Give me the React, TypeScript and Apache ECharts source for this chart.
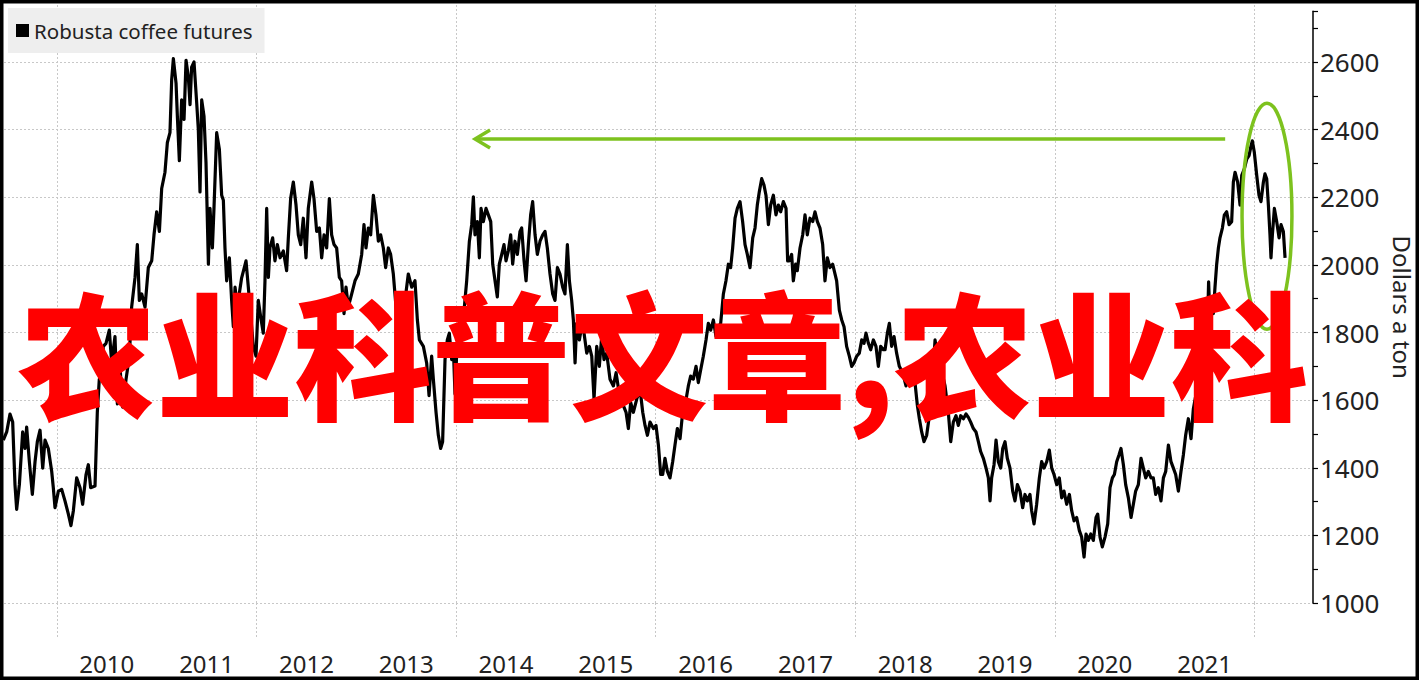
import React, { useEffect, useRef } from 'react';
import * as echarts from 'echarts';

const seriesName = 'Robusta coffee futures';
const yAxisName = 'Dollars a ton';
const overlayText = '农业科普文章,农业科';
const yearLabelValues = [2010.5, 2011.5, 2012.5, 2013.5, 2014.5, 2015.5, 2016.5, 2017.5, 2018.5, 2019.5, 2020.5, 2021.5];
const gridYears = [2010, 2012, 2014, 2016, 2018, 2020, 2022];

// [decimal year, dollars a ton]
const seg2009to2011: [number, number][] = [
  [2009.463,1482],[2009.497,1506],[2009.530,1559],[2009.557,1535],[2009.580,1350],[2009.597,1277],[2009.624,1350],[2009.657,1506],[2009.681,1457],[2009.697,1520],[2009.724,1418],[2009.754,1321],[2009.781,1418],[2009.804,1477],[2009.831,1511],[2009.858,1399],[2009.881,1482],[2009.914,1457],[2009.948,1389],[2009.964,1341],[2009.981,1282],[2010.015,1331],[2010.048,1336],[2010.081,1302],[2010.115,1263],[2010.141,1229],[2010.165,1273],[2010.198,1370],[2010.232,1341],[2010.258,1292],[2010.292,1380],[2010.315,1409],[2010.338,1341],[2010.382,1346],[2010.405,1564],[2010.425,1662],[2010.449,1671],[2010.465,1759],[2010.492,1768],[2010.525,1807],[2010.549,1710],[2010.582,1788],[2010.606,1589],[2010.632,1700],[2010.659,1579],[2010.693,1662],[2010.726,1730],[2010.749,1875],[2010.783,1963],[2010.806,2060],[2010.826,1895],[2010.850,1914],[2010.883,1875],[2010.916,1992],[2010.950,2012],[2010.973,2089],[2011.000,2157],[2011.027,2099],[2011.050,2226],[2011.083,2274],[2011.107,2362],[2011.133,2391],[2011.150,2547],[2011.167,2610],[2011.194,2537],[2011.207,2440],[2011.227,2308],[2011.250,2488],[2011.274,2430],[2011.294,2605],[2011.317,2556],[2011.334,2474],[2011.350,2585],[2011.374,2600],[2011.401,2478],[2011.417,2401],[2011.434,2216],[2011.451,2488],[2011.474,2440],[2011.494,2303],[2011.518,2002],[2011.534,2167],[2011.558,2050],[2011.574,2167],[2011.601,2391],[2011.628,2342],[2011.651,2206]
];
const seg2011to2013: [number, number][] = [
  [2011.668,2191],[2011.684,2051],[2011.701,1953],[2011.728,2021],[2011.751,1895],[2011.768,1817],[2011.785,1934],[2011.808,1876],[2011.850,1960],[2011.895,2012],[2011.918,1934],[2011.968,1759],[2011.995,1730],[2012.018,1895],[2012.042,1846],[2012.068,1798],[2012.085,1953],[2012.102,2167],[2012.119,1963],[2012.135,2051],[2012.162,2080],[2012.185,2012],[2012.209,2060],[2012.236,2021],[2012.269,2041],[2012.302,1983],[2012.319,2080],[2012.342,2196],[2012.369,2245],[2012.396,2177],[2012.419,2089],[2012.443,2060],[2012.469,2138],[2012.496,2021],[2012.519,2167],[2012.553,2245],[2012.576,2196],[2012.603,2099],[2012.630,2109],[2012.653,2021],[2012.677,2089],[2012.703,2050],[2012.730,2196],[2012.753,2089],[2012.777,2060],[2012.803,2050],[2012.830,1963],[2012.853,1953],[2012.877,1856],[2012.897,1934],[2012.920,1876],[2012.954,1914],[2012.987,1953],[2013.020,1973],[2013.054,2031],[2013.077,2119],[2013.097,2050],[2013.121,2109],[2013.144,2089],[2013.171,2206],[2013.197,2148],[2013.221,2070],[2013.244,2089],[2013.271,2050],[2013.294,1992],[2013.321,2050],[2013.344,2031],[2013.371,1973],[2013.398,1876],[2013.421,1807],[2013.438,1739],[2013.488,1895],[2013.521,1973],[2013.555,1934],[2013.588,1953],[2013.612,1837],[2013.632,1778],[2013.672,1759],[2013.705,1710],[2013.729,1613],[2013.755,1730],[2013.772,1662],[2013.799,1564],[2013.822,1496],[2013.845,1457],[2013.865,1477]
];
const seg2013to2016: [number, number][] = [
  [2013.889,1720],[2013.912,1778],[2013.932,1798],[2013.956,1720],[2013.972,1759],[2013.989,1618],[2014.006,1739],[2014.039,1759],[2014.075,1850],[2014.106,1953],[2014.133,2070],[2014.156,2119],[2014.173,2201],[2014.189,2089],[2014.213,2128],[2014.233,2021],[2014.250,2167],[2014.273,2128],[2014.300,2167],[2014.323,2148],[2014.347,2128],[2014.367,2002],[2014.390,1953],[2014.413,1905],[2014.433,2002],[2014.457,2031],[2014.480,2060],[2014.500,2012],[2014.523,2041],[2014.547,2089],[2014.567,2002],[2014.590,2070],[2014.614,2031],[2014.640,2099],[2014.657,2109],[2014.681,2012],[2014.701,1953],[2014.724,2060],[2014.747,2148],[2014.767,2187],[2014.791,2089],[2014.814,2031],[2014.841,2070],[2014.868,2089],[2014.891,2099],[2014.914,2050],[2014.941,1973],[2014.968,1914],[2014.991,1895],[2015.015,1992],[2015.041,1973],[2015.068,1934],[2015.091,1914],[2015.115,2060],[2015.135,1953],[2015.158,1895],[2015.175,1837],[2015.192,1710],[2015.208,1827],[2015.235,1778],[2015.258,1817],[2015.282,1798],[2015.309,1739],[2015.335,1759],[2015.359,1730],[2015.382,1603],[2015.409,1759],[2015.435,1700],[2015.459,1788],[2015.482,1720],[2015.509,1739],[2015.542,1662],[2015.576,1642],[2015.603,1681],[2015.643,1603],[2015.676,1584],[2015.703,1564],[2015.726,1516],[2015.749,1593],[2015.776,1564],[2015.810,1603],[2015.843,1633],[2015.870,1564],[2015.893,1525],[2015.917,1496],[2015.943,1535],[2015.977,1516],[2016.003,1525],[2016.027,1467],[2016.050,1380]
];
const seg2016to2018: [number, number][] = [
  [2016.070,1380],[2016.093,1428],[2016.117,1389],[2016.143,1370],[2016.170,1418],[2016.193,1467],[2016.217,1516],[2016.244,1486],[2016.270,1564],[2016.294,1584],[2016.327,1642],[2016.350,1671],[2016.377,1662],[2016.404,1700],[2016.427,1652],[2016.451,1690],[2016.477,1730],[2016.504,1778],[2016.527,1827],[2016.551,1807],[2016.578,1837],[2016.604,1788],[2016.628,1817],[2016.651,1827],[2016.678,1914],[2016.704,1953],[2016.728,2002],[2016.751,1992],[2016.771,2050],[2016.795,2138],[2016.818,2167],[2016.845,2187],[2016.871,2128],[2016.895,2060],[2016.918,2031],[2016.945,1992],[2016.972,2080],[2016.995,2109],[2017.018,2177],[2017.038,2216],[2017.062,2255],[2017.085,2236],[2017.105,2206],[2017.129,2119],[2017.152,2177],[2017.179,2206],[2017.205,2148],[2017.229,2177],[2017.252,2157],[2017.279,2187],[2017.306,2167],[2017.322,2012],[2017.339,2012],[2017.362,2031],[2017.379,1953],[2017.402,2002],[2017.419,1983],[2017.446,2050],[2017.473,2089],[2017.496,2148],[2017.519,2089],[2017.546,2138],[2017.573,2128],[2017.596,2157],[2017.620,2128],[2017.646,2109],[2017.673,2060],[2017.696,1953],[2017.720,2021],[2017.746,1992],[2017.773,2002],[2017.797,1973],[2017.813,1953],[2017.840,1866],[2017.864,1837],[2017.887,1817],[2017.913,1759],[2017.940,1730],[2017.964,1700],[2017.987,1710],[2018.014,1730],[2018.040,1739],[2018.064,1778],[2018.087,1768],[2018.107,1798],[2018.131,1768],[2018.154,1749],[2018.181,1778],[2018.207,1759],[2018.231,1700],[2018.254,1759],[2018.281,1749]
];
const seg2018to2020: [number, number][] = [
  [2018.298,1749],[2018.321,1798],[2018.341,1827],[2018.364,1759],[2018.388,1788],[2018.414,1739],[2018.441,1700],[2018.475,1681],[2018.508,1642],[2018.531,1671],[2018.565,1662],[2018.598,1652],[2018.622,1584],[2018.642,1545],[2018.665,1506],[2018.688,1477],[2018.715,1496],[2018.742,1554],[2018.765,1620],[2018.799,1778],[2018.832,1710],[2018.870,1680],[2018.899,1642],[2018.932,1564],[2018.956,1477],[2018.982,1535],[2019.009,1554],[2019.032,1525],[2019.056,1554],[2019.083,1545],[2019.109,1559],[2019.133,1549],[2019.156,1535],[2019.183,1516],[2019.209,1506],[2019.233,1477],[2019.256,1448],[2019.283,1428],[2019.310,1399],[2019.333,1370],[2019.350,1302],[2019.366,1370],[2019.390,1409],[2019.410,1482],[2019.433,1418],[2019.457,1399],[2019.477,1457],[2019.500,1477],[2019.523,1428],[2019.550,1399],[2019.577,1331],[2019.600,1302],[2019.624,1350],[2019.650,1331],[2019.677,1282],[2019.700,1321],[2019.724,1302],[2019.750,1321],[2019.767,1273],[2019.791,1234],[2019.817,1292],[2019.844,1370],[2019.867,1418],[2019.891,1399],[2019.918,1418],[2019.944,1452],[2019.968,1399],[2019.991,1380],[2020.018,1350],[2020.044,1370],[2020.068,1311],[2020.091,1331],[2020.118,1292],[2020.145,1321],[2020.168,1273],[2020.192,1243],[2020.218,1253],[2020.245,1214],[2020.268,1195],[2020.292,1136],[2020.312,1204],[2020.335,1185],[2020.359,1204],[2020.385,1185],[2020.412,1253]
];
const seg2020to2022: [number, number][] = [
  [2020.429,1263],[2020.452,1195],[2020.475,1166],[2020.502,1195],[2020.529,1234],[2020.552,1341],[2020.576,1370],[2020.596,1380],[2020.619,1418],[2020.642,1438],[2020.662,1457],[2020.686,1409],[2020.709,1350],[2020.736,1311],[2020.763,1253],[2020.786,1292],[2020.809,1331],[2020.836,1350],[2020.863,1428],[2020.886,1399],[2020.910,1370],[2020.936,1389],[2020.963,1370],[2020.986,1370],[2021.010,1321],[2021.036,1341],[2021.063,1302],[2021.087,1370],[2021.110,1389],[2021.137,1467],[2021.163,1418],[2021.187,1399],[2021.210,1380],[2021.237,1331],[2021.263,1389],[2021.287,1438],[2021.310,1496],[2021.337,1545],[2021.364,1486],[2021.387,1574],[2021.411,1613],[2021.437,1623],[2021.464,1681],[2021.504,1759],[2021.530,1830],[2021.540,1950],[2021.550,1870],[2021.587,1856],[2021.604,1934],[2021.621,2002],[2021.638,2050],[2021.654,2080],[2021.678,2109],[2021.698,2148],[2021.721,2157],[2021.745,2119],[2021.771,2128],[2021.788,2245],[2021.805,2274],[2021.831,2245],[2021.855,2177],[2021.872,2265],[2021.898,2284],[2021.922,2313],[2021.945,2323],[2021.965,2352],[2021.978,2367],[2021.998,2333],[2022.022,2265],[2022.045,2206],[2022.065,2187],[2022.089,2245],[2022.105,2269],[2022.122,2255],[2022.139,2177],[2022.155,2089],[2022.165,2021],[2022.179,2089],[2022.199,2167],[2022.222,2128],[2022.246,2080],[2022.266,2119],[2022.289,2099],[2022.306,2021]
];

// annotation anchors in data units
const arrowStart: [number, number] = [2021.706, 2372];
const arrowEnd: [number, number] = [2014.19, 2372];
const ellipseCenter: [number, number] = [2022.125, 2144];
const ellipseHalfYears = 0.25;
const ellipseHalfPrice = 334;

const X_MIN = 2009.47;
const X_MAX = 2022.586;
const GREEN = '#7dc21e';
const GRID_GRAY = '#c8c8c8';
const FONT = "'Noto Sans', 'Open Sans', sans-serif";

export default function App() {
  const ref = useRef<HTMLDivElement>(null);
  useEffect(() => {
    document.body.style.margin = '0';
    const chart = echarts.init(ref.current as HTMLDivElement, null, { renderer: 'svg' });
    const data = [...seg2009to2011, ...seg2011to2013, ...seg2013to2016, ...seg2016to2018, ...seg2018to2020, ...seg2020to2022];
    chart.setOption({
      animation: false,
      backgroundColor: '#ffffff',
      grid: { left: 4, right: 106, top: 11.3, bottom: 77, containLabel: false, outerBoundsMode: 'none' },
      legend: {
        data: [seriesName],
        left: 8,
        top: 8,
        backgroundColor: '#eeeeee',
        padding: [12, 12, 12, 8],
        icon: 'rect',
        itemWidth: 13,
        itemHeight: 13,
        selectedMode: false,
        textStyle: { fontSize: 20.5, color: '#222', fontFamily: FONT },
      },
      xAxis: [
        {
          type: 'value',
          min: X_MIN,
          max: X_MAX,
          axisLine: { show: false },
          splitLine: { show: false },
          axisTick: {
            show: true,
            inside: true,
            length: 599,
            customValues: gridYears,
            lineStyle: { color: GRID_GRAY, type: [2, 2], width: 1 },
          },
          axisLabel: {
            show: true,
            customValues: yearLabelValues,
            formatter: (v: number) => String(Math.floor(v)),
            margin: 48,
            fontSize: 24,
            color: '#222',
            fontFamily: FONT,
          },
        },
        {
          type: 'value',
          min: X_MIN,
          max: X_MAX,
          position: 'bottom',
          axisLine: { show: false },
          splitLine: { show: false },
          axisLabel: { show: false },
          axisTick: {
            show: true,
            inside: false,
            length: 35,
            customValues: gridYears,
            lineStyle: { color: GRID_GRAY, type: [2, 2], width: 1 },
          },
        },
      ],
      yAxis: {
        type: 'value',
        position: 'right',
        min: 1000,
        max: 2750,
        interval: 200,
        name: yAxisName,
        nameLocation: 'middle',
        nameRotate: -90,
        nameGap: 76,
        nameTextStyle: { fontSize: 24, color: '#222', fontFamily: FONT },
        axisLine: { show: true, onZero: false, lineStyle: { color: '#000', width: 1.5 } },
        axisTick: { show: true, length: 5, lineStyle: { color: '#000', width: 1.2 } },
        minorTick: { show: true, splitNumber: 2, length: 5, lineStyle: { color: '#000', width: 1.2 } },
        axisLabel: {
          fontSize: 26,
          color: '#222',
          margin: 7,
          fontFamily: FONT,
          showMaxLabel: false,
          formatter: (v: number) => String(Math.round(v)),
        },
        splitLine: { show: true, showMaxLine: false, lineStyle: { color: GRID_GRAY, type: [2, 2], width: 1 } },
      },
      series: [
        {
          name: seriesName,
          type: 'line',
          data,
          showSymbol: false,
          symbol: 'none',
          silent: true,
          lineStyle: { color: '#000', width: 3.2, join: 'round' },
          itemStyle: { color: '#000' },
          z: 3,
        },
      ],
    });

    const px = (p: [number, number]) => chart.convertToPixel({ seriesIndex: 0 }, p) as number[];
    const a0 = px(arrowStart);
    const a1 = px(arrowEnd);
    const c = px(ellipseCenter);
    const cx1 = px([ellipseCenter[0] + ellipseHalfYears, ellipseCenter[1] + ellipseHalfPrice]);
    const rx = Math.abs(cx1[0] - c[0]);
    const ry = Math.abs(cx1[1] - c[1]);

    chart.setOption({
      graphic: [
        {
          type: 'text',
          z: 50,
          silent: true,
          style: {
            x: 18,
            y: 349,
            text: overlayText,
            fontSize: 138,
            fontWeight: 900,
            fontFamily: "'Noto Sans CJK SC', sans-serif",
            fill: '#ff0000',
            align: 'left',
            verticalAlign: 'middle',
          },
        },
        {
          type: 'line',
          z: 40,
          silent: true,
          shape: { x1: a0[0], y1: a0[1], x2: a1[0], y2: a1[1] },
          style: { stroke: GREEN, lineWidth: 3.5 },
        },
        {
          type: 'polyline',
          z: 40,
          silent: true,
          shape: { points: [[a1[0] + 15, a1[1] - 9], [a1[0], a1[1]], [a1[0] + 15, a1[1] + 9]] },
          style: { stroke: GREEN, lineWidth: 3.5, fill: 'none' },
        },
        {
          type: 'ellipse',
          z: 40,
          silent: true,
          shape: { cx: c[0], cy: c[1], rx, ry },
          style: { stroke: GREEN, lineWidth: 3.5, fill: 'none' },
        },
        {
          type: 'rect',
          z: 100,
          silent: true,
          shape: { x: 0, y: 0, width: 1419, height: 680 },
          style: { fill: 'none', stroke: '#000', lineWidth: 7 },
        },
      ],
    });

    return () => chart.dispose();
  }, []);
  return <div ref={ref} style={{ width: 1419, height: 680 }} />;
}
